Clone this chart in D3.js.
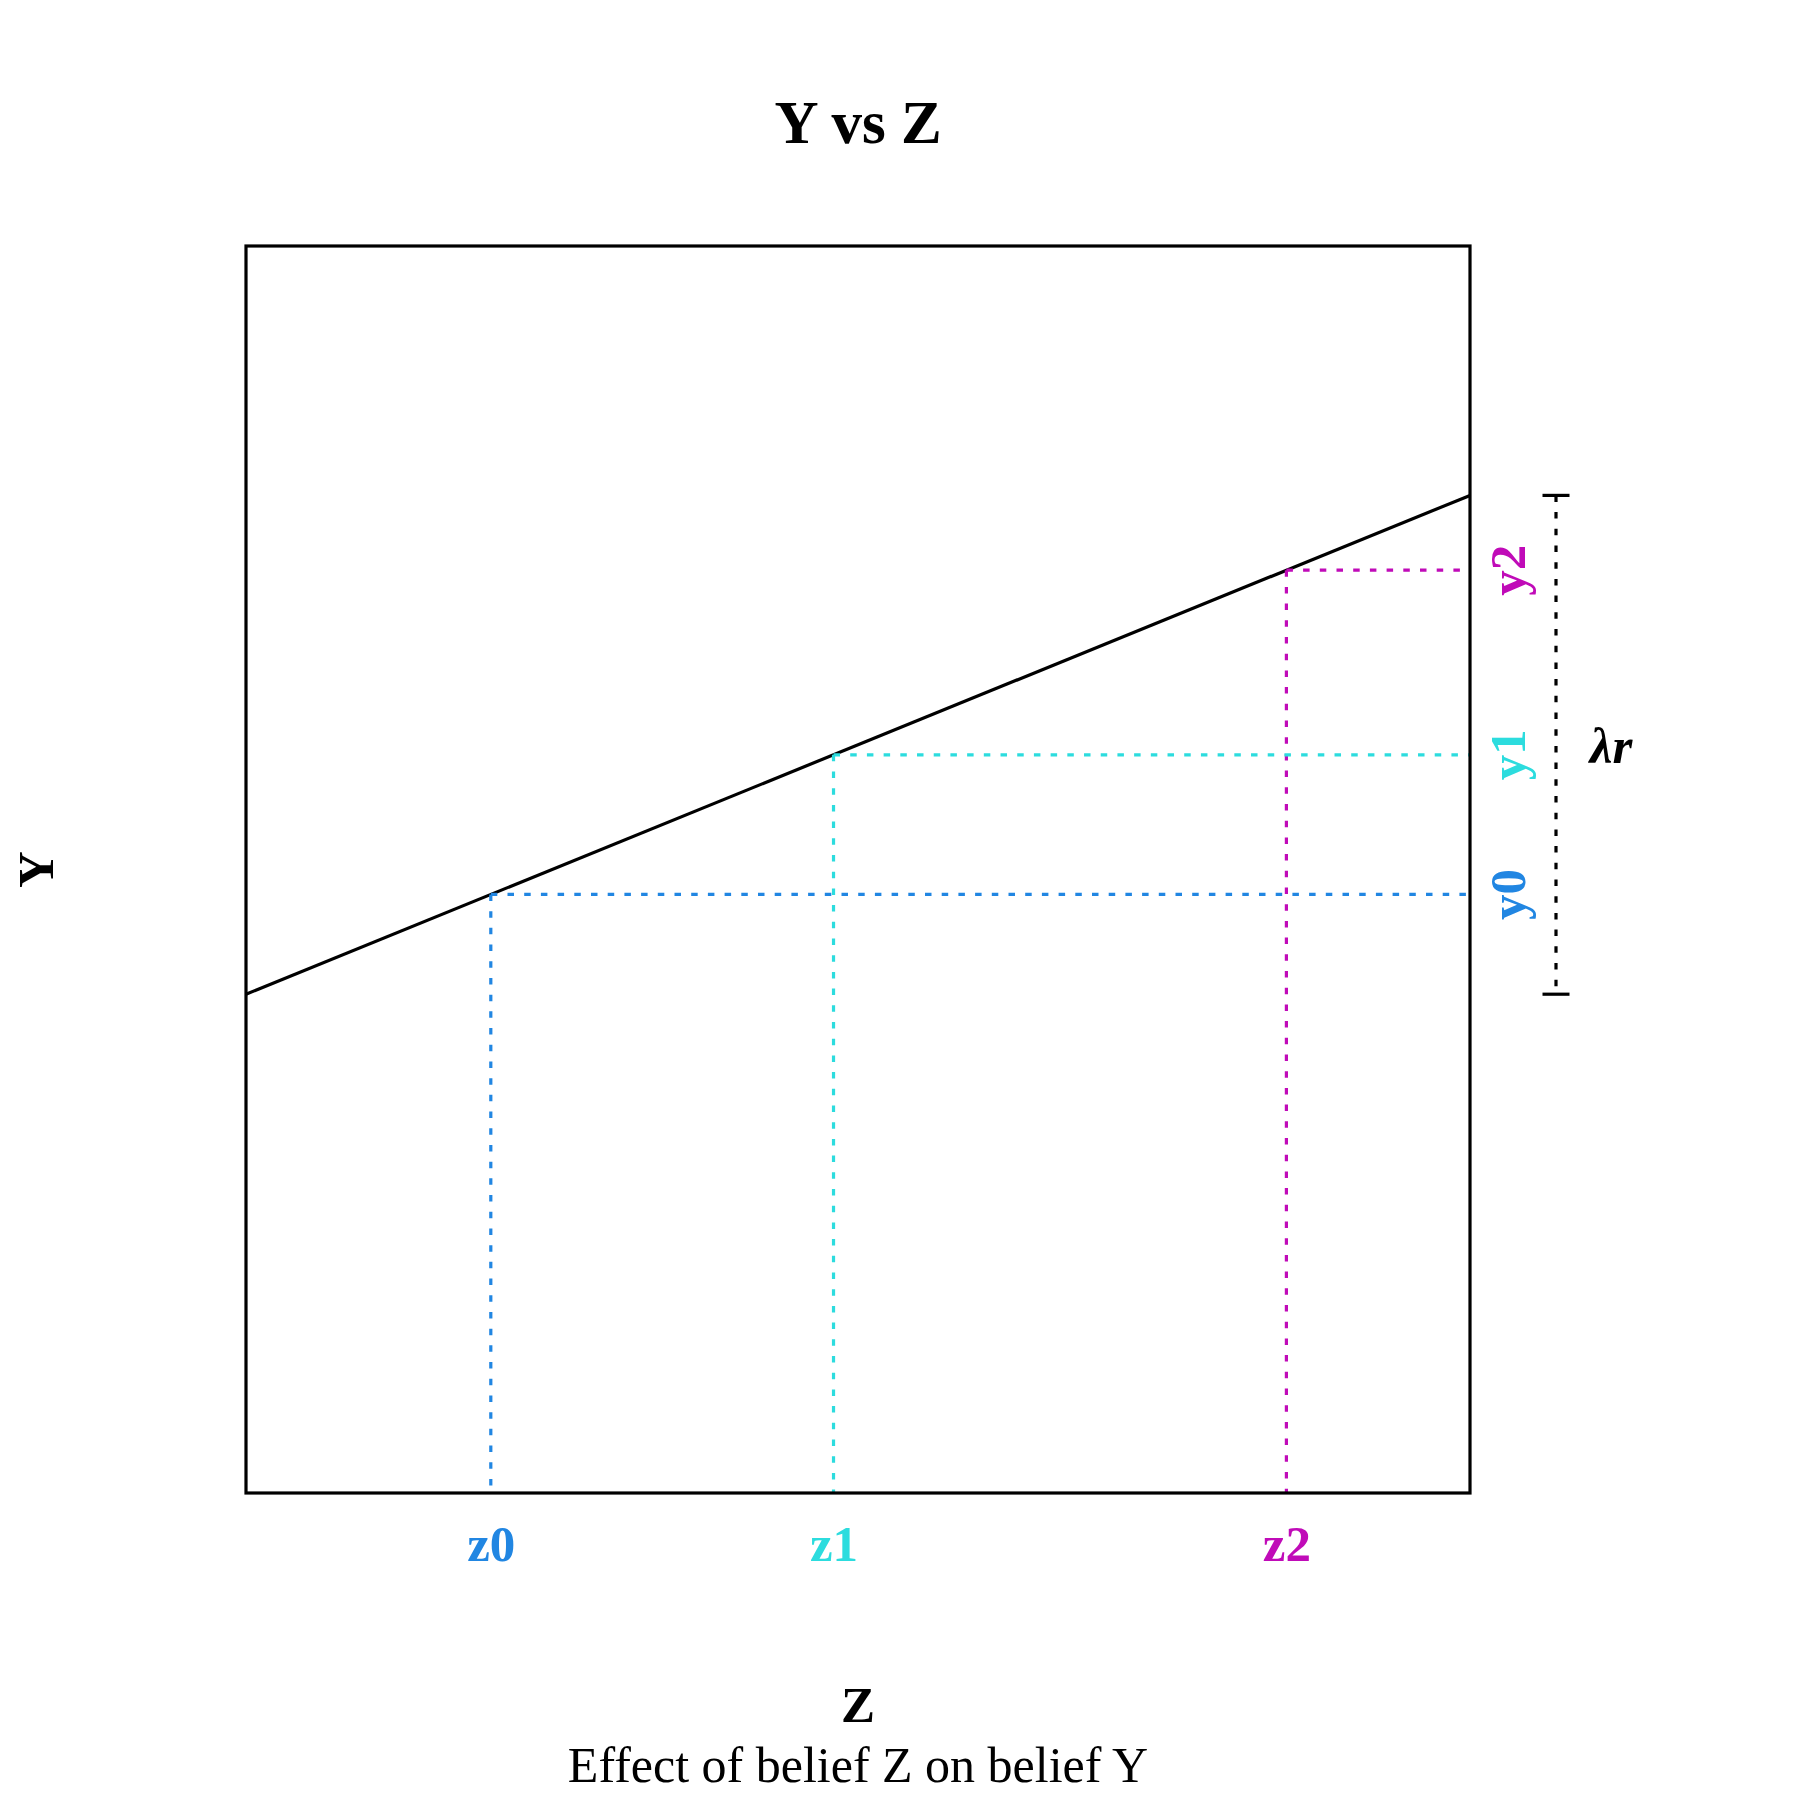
<!DOCTYPE html>
<html>
<head>
<meta charset="utf-8">
<script src="https://cdn.jsdelivr.net/npm/d3@7"></script>
<style>
  html, body { margin: 0; padding: 0; background: #fff; }
  svg text { font-family: "Liberation Serif", "Times New Roman", serif; }
</style>
</head>
<body>
<svg id="chart" width="1800" height="1800"></svg>
<script>
// ---- data ----
const pointLabelsZ = ["z0", "z1", "z2"];
const pointLabelsY = ["y0", "y1", "y2"];
const zValues = [2, 4.8, 8.5];
const yValues = [4.8, 5.92, 7.4];
const pointColors = ["#2186E2", "#2CDCDE", "#C00BB8"];
const lineZ = [0, 10];
const lineY = [4, 8];
const rangeBar = [4, 8];
const rangeLabel = "λr";
const titleText = "Y vs Z";
const xLabel = "Z";
const yLabel = "Y";
const subtitleText = "Effect of belief Z on belief Y";

// ---- layout ----
const W = 1800, H = 1800;
const plot = { left: 246, right: 1470, top: 246, bottom: 1493 };
const svg = d3.select("#chart");

const x = d3.scaleLinear().domain([0, 10]).range([plot.left, plot.right]);
const y = d3.scaleLinear().domain([0, 10]).range([plot.bottom, plot.top]);

const dash = "6.5 10.2";

svg.append("defs").append("clipPath").attr("id", "plotclip")
  .append("rect")
  .attr("x", plot.left).attr("y", plot.top)
  .attr("width", plot.right - plot.left).attr("height", plot.bottom - plot.top);

const g = svg.append("g").attr("clip-path", "url(#plotclip)");

// main line
const lineData = lineZ.map((z, i) => [z, lineY[i]]);
g.append("path")
  .datum(lineData)
  .attr("d", d3.line().x(d => x(d[0])).y(d => y(d[1])))
  .attr("fill", "none")
  .attr("stroke", "#000")
  .attr("stroke-width", 3.2);

// dotted guide lines
const pts = zValues.map((z, i) => ({ z, yv: yValues[i], c: pointColors[i], lz: pointLabelsZ[i], ly: pointLabelsY[i] }));

g.selectAll("line.vguide").data(pts).enter().append("line")
  .attr("class", "vguide")
  .attr("x1", d => x(d.z)).attr("x2", d => x(d.z))
  .attr("y1", d => y(d.yv)).attr("y2", y(0))
  .attr("stroke", d => d.c).attr("stroke-width", 3.2)
  .attr("stroke-dasharray", dash);

g.selectAll("line.hguide").data(pts).enter().append("line")
  .attr("class", "hguide")
  .attr("x1", d => x(d.z)).attr("x2", x(10))
  .attr("y1", d => y(d.yv)).attr("y2", d => y(d.yv))
  .attr("stroke", d => d.c).attr("stroke-width", 3.2)
  .attr("stroke-dasharray", dash);

// box
svg.append("rect")
  .attr("x", plot.left).attr("y", plot.top)
  .attr("width", plot.right - plot.left).attr("height", plot.bottom - plot.top)
  .attr("fill", "none").attr("stroke", "#000").attr("stroke-width", 3.2);

// z tick labels (via axis)
const xAxis = d3.axisBottom(x).tickValues(zValues).tickSize(0).tickPadding(0)
  .tickFormat((d, i) => pointLabelsZ[i]);
const xa = svg.append("g").attr("transform", `translate(0,${plot.bottom})`).call(xAxis);
xa.select(".domain").remove();
xa.selectAll(".tick text")
  .attr("y", 68).attr("dy", null)
  .attr("font-family", "Liberation Serif, serif")
  .attr("font-size", 51).attr("font-weight", "bold")
  .attr("fill", (d, i) => pointColors[i]);

// y labels on right (rotated)
svg.selectAll("text.ylab").data(pts).enter().append("text")
  .attr("class", "ylab")
  .attr("transform", d => `translate(${plot.right + 55},${y(d.yv)}) rotate(-90)`)
  .attr("text-anchor", "middle")
  .attr("font-size", 51).attr("font-weight", "bold")
  .attr("fill", d => d.c)
  .text(d => d.ly);

// range bar (λr)
const barX = plot.right + 86;
svg.append("line")
  .attr("x1", barX).attr("x2", barX)
  .attr("y1", y(rangeBar[1])).attr("y2", y(rangeBar[0]))
  .attr("stroke", "#000").attr("stroke-width", 3.2)
  .attr("stroke-dasharray", dash);
svg.selectAll("line.cap").data(rangeBar).enter().append("line")
  .attr("class", "cap")
  .attr("x1", barX - 13.5).attr("x2", barX + 13.5)
  .attr("y1", d => y(d)).attr("y2", d => y(d))
  .attr("stroke", "#000").attr("stroke-width", 3.2);
svg.append("text")
  .attr("x", plot.right + 141)
  .attr("y", y((rangeBar[0] + rangeBar[1]) / 2))
  .attr("dy", "0.35em")
  .attr("text-anchor", "middle")
  .attr("font-size", 51).attr("font-weight", "bold").attr("font-style", "italic")
  .text(rangeLabel);

// title & labels
const cx = (plot.left + plot.right) / 2;
svg.append("text")
  .attr("x", cx).attr("y", 143)
  .attr("text-anchor", "middle")
  .attr("font-size", 61).attr("font-weight", "bold")
  .text(titleText);

svg.append("text")
  .attr("x", cx).attr("y", 1722)
  .attr("text-anchor", "middle")
  .attr("font-size", 51).attr("font-weight", "bold")
  .text(xLabel);

svg.append("text")
  .attr("x", cx).attr("y", 1782)
  .attr("text-anchor", "middle")
  .attr("font-size", 50)
  .text(subtitleText);

svg.append("text")
  .attr("transform", `translate(53,${(plot.top + plot.bottom) / 2}) rotate(-90)`)
  .attr("text-anchor", "middle")
  .attr("font-size", 51).attr("font-weight", "bold")
  .text(yLabel);
</script>
</body>
</html>
